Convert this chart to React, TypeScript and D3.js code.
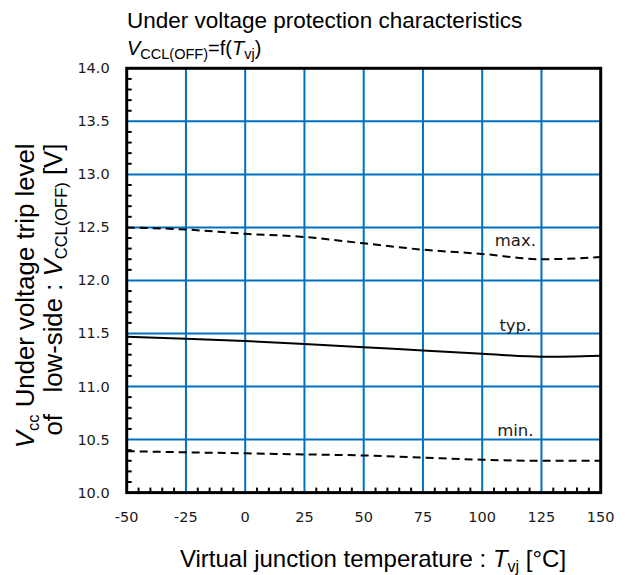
import React from "react";
import * as d3 from "d3";

// Junction temperature points (°C)
const temps = [-50, -25, 0, 25, 50, 75, 100, 125, 150];
// Under-voltage trip level V_CCL(OFF) [V]
const maxValues = [12.5, 12.48, 12.44, 12.41, 12.35, 12.29, 12.25, 12.2, 12.22];
const typValues = [11.47, 11.45, 11.43, 11.4, 11.37, 11.34, 11.31, 11.28, 11.29];
const minValues = [10.39, 10.38, 10.37, 10.36, 10.35, 10.33, 10.31, 10.3, 10.3];

const xTicks = [-50, -25, 0, 25, 50, 75, 100, 125, 150];
const yTicks = [10.0, 10.5, 11.0, 11.5, 12.0, 12.5, 13.0, 13.5, 14.0];

const W = 627;
const H = 575;
const plot = { left: 126.7, right: 600.7, top: 68.3, bottom: 492.6 };
const GRID = "#0070C0";
const LABEL_FONT = "'Liberation Sans', Arial, sans-serif";
const TICK_FONT = "'DejaVu Sans', Verdana, sans-serif";
const NBSP = "\u00A0";

export default function App() {
  const x = d3.scaleLinear().domain([-50, 150]).range([plot.left, plot.right]);
  const y = d3.scaleLinear().domain([10, 14]).range([plot.bottom, plot.top]);

  const line = d3
    .line<number>()
    .x((_, i) => x(temps[i]))
    .y((d) => y(d))
    .curve(d3.curveMonotoneX);

  const minorX = d3.range(-50, 150.001, 5).filter((t) => Math.round(t) % 25 !== 0);
  const minorY = d3.range(10, 14.0001, 0.1).filter((v) => Math.round(v * 10) % 5 !== 0);

  return (
    <svg width={W} height={H} style={{ position: "absolute", left: 0, top: 0, background: "#fff" }}>
      {/* title */}
      <text x={127} y={28} fontFamily={LABEL_FONT} fontSize={22.5} fill="#000">
        Under voltage protection characteristics
      </text>
      <text x={127} y={55} fontFamily={LABEL_FONT} fontSize={20} fill="#000">
        <tspan fontStyle="italic">V</tspan>
        <tspan fontSize={14.5} dy={4}>CCL(OFF)</tspan>
        <tspan dy={-4}>=f(</tspan>
        <tspan fontStyle="italic">T</tspan>
        <tspan fontSize={14.5} dy={4}>vj</tspan>
        <tspan dy={-4}>)</tspan>
      </text>

      {/* grid */}
      {xTicks.slice(1, -1).map((t) => (
        <line key={"gx" + t} x1={x(t)} x2={x(t)} y1={plot.top} y2={plot.bottom} stroke={GRID} strokeWidth={2} />
      ))}
      {yTicks.slice(1, -1).map((v) => (
        <line key={"gy" + v} x1={plot.left} x2={plot.right} y1={y(v)} y2={y(v)} stroke={GRID} strokeWidth={2} />
      ))}

      {/* minor ticks inward */}
      {minorX.map((t) => (
        <line key={"mx" + t} x1={x(t)} x2={x(t)} y1={plot.bottom} y2={plot.bottom - 5} stroke="#000" strokeWidth={2} />
      ))}
      {minorY.map((v) => (
        <line key={"my" + v} x1={plot.left} x2={plot.left + 5} y1={y(v)} y2={y(v)} stroke="#000" strokeWidth={2} />
      ))}

      {/* curves */}
      <path d={line(maxValues) ?? ""} fill="none" stroke="#000" strokeWidth={2} strokeDasharray="8,5" />
      <path d={line(typValues) ?? ""} fill="none" stroke="#000" strokeWidth={2} />
      <path d={line(minValues) ?? ""} fill="none" stroke="#000" strokeWidth={2} strokeDasharray="8,5" />

      {/* curve labels */}
      <g fontFamily={TICK_FONT} fontSize={16.5} fill="#1a1a1a">
        <text x={x(114)} y={246} textAnchor="middle">max.</text>
        <text x={x(114)} y={331} textAnchor="middle">typ.</text>
        <text x={x(114)} y={436} textAnchor="middle">min.</text>
      </g>

      {/* frame */}
      <rect
        x={plot.left}
        y={plot.top}
        width={plot.right - plot.left}
        height={plot.bottom - plot.top}
        fill="none"
        stroke="#000"
        strokeWidth={3}
      />

      {/* tick labels */}
      <g fontFamily={TICK_FONT} fontSize={14.5} fill="#1a1a1a">
        {xTicks.map((t) => (
          <text key={"xl" + t} x={x(t)} y={plot.bottom + 29} textAnchor="middle">
            {t}
          </text>
        ))}
        {yTicks.map((v) => (
          <text key={"yl" + v} x={plot.left - 17} y={y(v) + 5} textAnchor="end">
            {v.toFixed(1)}
          </text>
        ))}
      </g>

      {/* x axis title */}
      <text x={373} y={567} textAnchor="middle" fontFamily={LABEL_FONT} fontSize={24} fill="#000">
        Virtual junction temperature :
        <tspan fontStyle="italic"> T</tspan>
        <tspan fontSize={16} dy={5}>vj</tspan>
        <tspan dy={-5}> [°C]</tspan>
      </text>

      {/* y axis title */}
      <g transform={`translate(0, 143.5) rotate(-90)`} fontFamily={LABEL_FONT} fontSize={25.8} fill="#000">
        <text x={0} y={34} textAnchor="end">
          <tspan fontStyle="italic">V</tspan>
          <tspan fontSize={16.5} dy={5}>cc</tspan>
          <tspan dy={-5}>{NBSP + "Under voltage trip level"}</tspan>
        </text>
        <text x={0} y={62} textAnchor="end">
          <tspan>{"of" + NBSP + NBSP + NBSP + "low-side :" + NBSP}</tspan>
          <tspan fontStyle="italic">V</tspan>
          <tspan fontSize={16.5} dy={5}>CCL(OFF)</tspan>
          <tspan dy={-5}>{NBSP + "[V]"}</tspan>
        </text>
      </g>
    </svg>
  );
}
